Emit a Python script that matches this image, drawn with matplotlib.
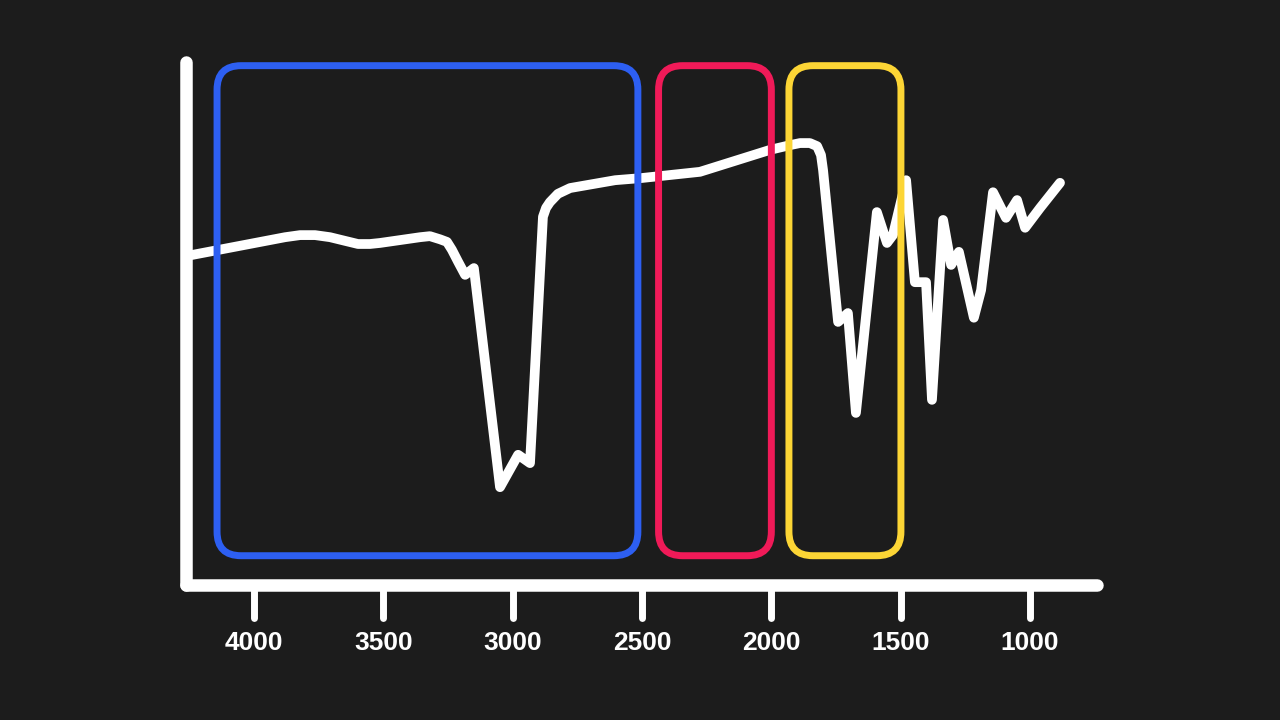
import matplotlib.pyplot as plt
from matplotlib.patches import FancyBboxPatch
from matplotlib.transforms import IdentityTransform

plt.rcParams['font.family'] = ['Liberation Sans', 'DejaVu Sans']

# IR spectrum (wavenumber cm-1, transmittance %)
wavenumber = [4240, 3880, 3822, 3764, 3706, 3648, 3598, 3552, 3513, 3358,
              3320, 3281, 3254, 3235, 3211, 3184, 3150, 3049, 2979, 2933,
              2883, 2871, 2856, 2825, 2778, 2604, 2504, 2276, 2005, 1928,
              1889, 1851, 1823, 1808, 1800, 1742, 1704, 1673, 1592, 1553,
              1530, 1479, 1445, 1402, 1379, 1336, 1305, 1275, 1217, 1189,
              1143, 1093, 1050, 1019, 961, 884]
transmittance = [63.1, 66.5, 66.9, 66.9, 66.5, 65.8, 65.2, 65.2, 65.4, 66.5,
                 66.7, 66.1, 65.6, 64.1, 61.8, 59.3, 60.6, 18.7, 24.9, 23.3,
                 70.4, 72.1, 73.2, 74.8, 75.9, 77.4, 77.8, 79.0, 83.2, 84.1,
                 84.5, 84.5, 83.9, 82.2, 79.3, 50.3, 52.0, 32.9, 71.3, 65.4,
                 66.9, 77.4, 57.9, 57.9, 35.4, 69.8, 61.2, 63.7, 51.1, 56.4,
                 75.1, 70.2, 73.6, 68.3, 72.1, 76.9]

tick_values = [4000, 3500, 3000, 2500, 2000, 1500, 1000]

# highlighted regions (high wavenumber, low wavenumber)
regions = [(4143, 2516), (2436, 2000), (1932, 1499)]
region_colors = ['#2d5ff2', '#f01a58', '#fcd535']
region_top = 99.3
region_bottom = 5.6

bg = '#1c1c1c'
fig = plt.figure(figsize=(12.8, 7.2), dpi=100, facecolor=bg)
ax = fig.add_axes([186/1280, 135/720, 911/1280, 523/720])
ax.set_facecolor(bg)

ax.set_xlim(4263, 741)
ax.set_ylim(0, 100)

ax.plot(wavenumber, transmittance, color='white', lw=7,
        solid_joinstyle='round', solid_capstyle='round', zorder=3)

# axes lines
for side in ['top', 'right']:
    ax.spines[side].set_visible(False)
for side in ['left', 'bottom']:
    ax.spines[side].set_color('white')
    ax.spines[side].set_linewidth(9)
    ax.spines[side].set_capstyle('round')

# ticks drawn as rounded bars below the axis
ax.vlines(tick_values, 0, -0.064, transform=ax.get_xaxis_transform(),
          color='white', lw=5, capstyle='round', clip_on=False, zorder=4)
ax.set_xticks(tick_values)
ax.set_xticklabels([str(v) for v in tick_values])
ax.tick_params(axis='x', length=0, pad=33, labelsize=19, labelcolor='white')
for lab in ax.get_xticklabels():
    lab.set_fontweight('bold')
ax.set_yticks([])

# rounded boxes
for (hi, lo), col in zip(regions, region_colors):
    x0, y0 = ax.transData.transform((hi, region_bottom))
    x1, y1 = ax.transData.transform((lo, region_top))
    box = FancyBboxPatch((x0, y0), x1 - x0, y1 - y0,
                         boxstyle='round,pad=0,rounding_size=24',
                         transform=IdentityTransform(), fill=False,
                         edgecolor=col, lw=5, zorder=5)
    fig.add_artist(box)

fig.savefig('out.png', dpi=100, facecolor=bg)
